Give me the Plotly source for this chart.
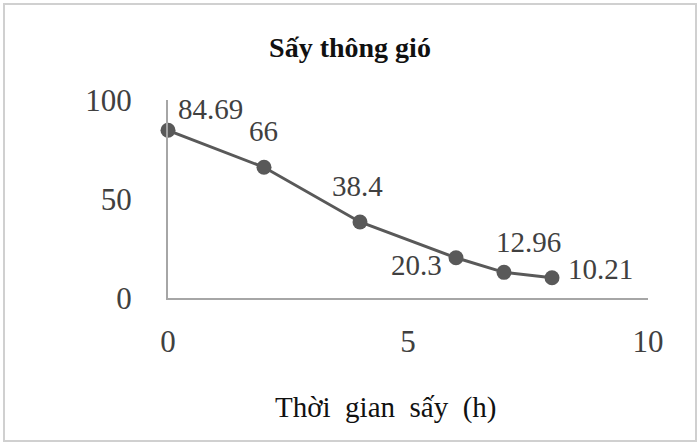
import plotly.graph_objects as go

# drying time (h) vs moisture value
time_h = [0, 2, 4, 6, 7, 8]
values = [84.69, 66, 38.4, 20.3, 12.96, 10.21]
labels = ["84.69", "66", "38.4", "20.3", "12.96", "10.21"]

x_ticks = [0, 5, 10]
y_ticks = [0, 50, 100]

FONT = "Liberation Serif"
GREY = "#595959"
TXT = "#404040"

# where each data label sits relative to its point: (xanchor, xshift, yshift)
LABEL_PLACE = [("left", 8, 21), ("center", -1, 36), ("center", -3, 36),
               ("right", -12, -7), ("center", 24, 30), ("left", 14, 9)]

fig = go.Figure()
fig.add_trace(go.Scatter(
    x=time_h, y=values, mode="lines+markers",
    line=dict(color=GREY, width=3),
    marker=dict(color=GREY, size=15),
    cliponaxis=False, showlegend=False, hoverinfo="skip",
))

for xv, yv, txt, (anc, dx, dy) in zip(time_h, values, labels, LABEL_PLACE):
    fig.add_annotation(x=xv, y=yv, text=txt, showarrow=False,
                       xanchor=anc, yanchor="middle", xshift=dx, yshift=dy,
                       font=dict(family=FONT, size=29, color=TXT))

W, H = 700, 448
L, R, T, B = 168, 52, 100, 150
pw, ph = W - L - R, H - T - B

fig.add_annotation(text="Thời  gian  sấy  (h)", xref="paper", yref="paper",
                   x=(386 - L) / pw, y=(H - B - 407) / ph, showarrow=False,
                   xanchor="center", yanchor="middle",
                   font=dict(family=FONT, size=29, color="#111111"))

fig.update_layout(
    width=W, height=H,
    margin=dict(l=L, r=R, t=T, b=B),
    paper_bgcolor="white", plot_bgcolor="white",
    font=dict(family=FONT, color=TXT),
    title=dict(text="<b>Sấy thông gió</b>", x=0.5, xref="container",
               y=1 - 47 / H, yref="container", yanchor="middle",
               font=dict(family=FONT, size=28, color="#111111")),
    xaxis=dict(range=[0, 10], tickvals=x_ticks, showgrid=False, zeroline=False,
               showline=True, linecolor="#a6a6a6", linewidth=2,
               ticks="outside", ticklen=15, tickcolor="rgba(0,0,0,0)",
               tickfont=dict(family=FONT, size=31, color=TXT)),
    yaxis=dict(range=[0, 100], tickvals=y_ticks, showgrid=False, zeroline=False,
               showline=True, linecolor="#a6a6a6", linewidth=2,
               ticks="outside", ticklen=28, tickcolor="rgba(0,0,0,0)",
               tickfont=dict(family=FONT, size=31, color=TXT)),
    shapes=[dict(type="rect", xref="paper", yref="paper",
                 x0=(4 - L) / pw, x1=(696 - L) / pw,
                 y0=(H - B - 441) / ph, y1=(H - B - 4) / ph,
                 line=dict(color="#d0d0d0", width=2))],
)

fig.write_html("out.html", config={"displayModeBar": False},
               post_script="document.body.style.margin='0';")
